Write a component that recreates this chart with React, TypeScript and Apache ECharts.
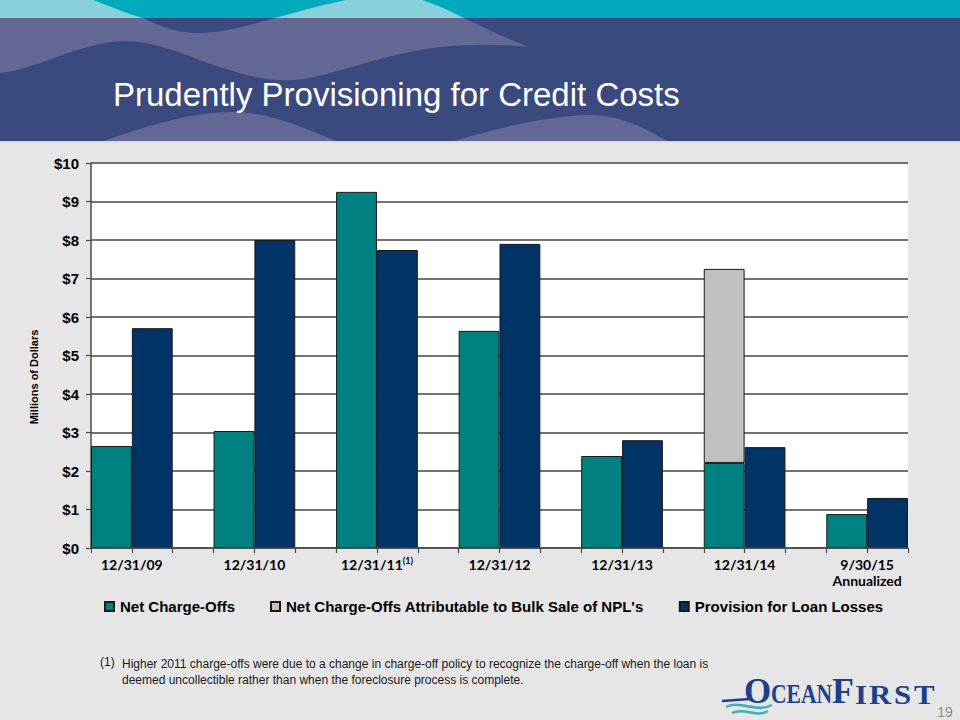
import React, { useEffect, useRef } from "react";
import * as echarts from "echarts";

// ---------- data ----------
const categories = ["12/31/09", "12/31/10", "12/31/11", "12/31/12", "12/31/13", "12/31/14", "9/30/15\nAnnualized"];
const footnoteCategory = "12/31/11";
const netChargeOffs = [2.65, 3.04, 9.25, 5.64, 2.39, 2.21, 0.88];
const bulkSaleChargeOffs = [null, null, null, null, null, 5.04, null];
const provisionForLoanLosses = [5.71, 8.0, 7.74, 7.9, 2.8, 2.62, 1.3];
const seriesNames = [
  "Net Charge-Offs",
  "Net Charge-Offs Attributable to Bulk Sale of NPL's",
  "Provision for Loan Losses",
];
const yTicks = { min: 0, max: 10, interval: 1 };
const title = "Prudently Provisioning for Credit Costs";
const yAxisName = "Millions of Dollars";
const footnote =
  "Higher 2011 charge-offs were due to a change in charge-off policy to recognize the charge-off when the loan is\ndeemed uncollectible rather than when the foreclosure process is complete.";
const pageNumber = "19";

// ---------- header shapes ----------
echarts.graphic.registerShape(
  "hdrLightA",
  echarts.graphic.extendPath("M0 0 L93 0 C110 6 125 13 143 18 L0 18 Z", {})
);
echarts.graphic.registerShape(
  "hdrLightB",
  echarts.graphic.extendPath("M346 0 L422 0 C440 6 452 12 464 18 L275 18 C300 11 322 5 346 0 Z", {})
);
echarts.graphic.registerShape(
  "hdrWave1",
  echarts.graphic.extendPath(
    "M0 18 L143 18 C160 26 175 33 200 33 C225 33 250 25 275 18 L464 18 C485 28 505 38 529 47 C500 44 470 44 440 47 C400 52 370 62 330 73 C310 79 295 81 280 80 C255 79 235 72 205 62 C180 52 150 41 125 41 C100 41 70 52 40 63 C25 68 12 72 0 73 Z",
    {}
  )
);
echarts.graphic.registerShape(
  "hdrWave2",
  echarts.graphic.extendPath("M104 141 C140 128 190 112 232 112 C270 112 305 128 336 141 Z", {})
);
echarts.graphic.registerShape(
  "hdrWave3",
  echarts.graphic.extendPath("M454 141 C490 130 550 115 590 115 C620 115 645 128 667 141 Z", {})
);

const SANS = "'Liberation Sans', Arial, sans-serif";
const SERIF = "'Liberation Serif', 'Times New Roman', serif";
const LOGO = "#1E3F8A";

export default function App() {
  const ref = useRef<HTMLDivElement>(null);

  useEffect(() => {
    if (!ref.current) return;
    const chart = echarts.init(ref.current, undefined, { renderer: "svg" });

    const plotLeft = 91;
    const plotRight = 908;
    const plotTop = 163;
    const plotBottom = 548;
    const slotCount = categories.length * 3 - 1;
    const slot = (plotRight - plotLeft) / slotCount;
    const barLeft = plotLeft - slot / 2;
    const barWidthTotal = slot * 3 * categories.length;
    const slots = Array.from({ length: slotCount }, () => "");

    const barBorder = { borderColor: "#1a1a1a", borderWidth: 1 };

    const logoLetter = (text: string, x: number, size: number, y: number, scaleX = 1) => ({
      type: "text",
      x,
      y,
      scaleX,
      style: { text, fill: LOGO, font: `bold ${size}px ${SERIF}`, textAlign: "left", textVerticalAlign: "middle" },
    });

    const option: any = {
      animation: false,
      backgroundColor: "#E6E6E6",
      grid: [
        {
          left: plotLeft,
          width: plotRight - plotLeft,
          top: plotTop,
          height: plotBottom - plotTop,
          show: true,
          backgroundColor: "#ffffff",
          borderWidth: 0,
        },
        {
          left: barLeft,
          width: barWidthTotal,
          top: plotTop,
          height: plotBottom - plotTop,
        },
      ],
      xAxis: [
        {
          gridIndex: 0,
          type: "category",
          data: slots,
          boundaryGap: true,
          axisLine: { show: true, lineStyle: { color: "#4a4a4a", width: 1.5 } },
          axisTick: { show: true, length: 5, lineStyle: { color: "#4a4a4a", width: 1.2 } },
          axisLabel: { show: false },
          splitLine: { show: false },
          z: 5,
        },
        {
          gridIndex: 1,
          type: "category",
          data: categories,
          boundaryGap: true,
          axisLine: { show: false },
          axisTick: { show: false },
          splitLine: { show: false },
          axisLabel: {
            interval: 0,
            margin: 8,
            color: "#000",
            fontFamily: "Lato, 'Open Sans', sans-serif",
            fontWeight: "bold",
            fontSize: 14,
            lineHeight: 16,
            formatter: (v: string) => (v === footnoteCategory ? v + "{s|(1)}" : v),
            rich: {
              s: {
                fontSize: 9,
                fontWeight: "bold",
                fontFamily: "Lato, 'Open Sans', sans-serif",
                color: "#000",
                padding: [0, 0, 7, 0],
              },
            },
          },
        },
      ],
      yAxis: [
        {
          gridIndex: 0,
          type: "value",
          min: yTicks.min,
          max: yTicks.max,
          interval: yTicks.interval,
          axisLine: { show: true, lineStyle: { color: "#4a4a4a", width: 1.5 } },
          axisTick: { show: true, length: 5, lineStyle: { color: "#4a4a4a", width: 1.2 } },
          splitLine: { show: true, lineStyle: { color: "#444444", width: 1.5 } },
          axisLabel: {
            margin: 12,
            color: "#000",
            fontFamily: SANS,
            fontWeight: "bold",
            fontSize: 15,
            formatter: (v: number) => "$" + v,
          },
        },
        {
          gridIndex: 1,
          type: "value",
          min: yTicks.min,
          max: yTicks.max,
          interval: yTicks.interval,
          show: false,
          splitLine: { show: false },
        },
      ],
      legend: {
        left: 104,
        top: 599,
        padding: 0,
        itemWidth: 9,
        itemHeight: 9,
        itemGap: 35,
        icon: "rect",
        data: seriesNames,
        textStyle: {
          color: "#000",
          fontFamily: SANS,
          fontWeight: "bold",
          fontSize: 15,
          padding: [0, 0, 0, 1],
        },
      },
      series: [
        {
          name: seriesNames[0],
          type: "bar",
          xAxisIndex: 1,
          yAxisIndex: 1,
          stack: "nco",
          barWidth: slot,
          barGap: "0%",
          data: netChargeOffs,
          itemStyle: { color: "#008080", ...barBorder },
        },
        {
          name: seriesNames[1],
          type: "bar",
          xAxisIndex: 1,
          yAxisIndex: 1,
          stack: "nco",
          barWidth: slot,
          barGap: "0%",
          data: bulkSaleChargeOffs,
          itemStyle: { color: "#C0C0C0", ...barBorder },
        },
        {
          name: seriesNames[2],
          type: "bar",
          xAxisIndex: 1,
          yAxisIndex: 1,
          barWidth: slot,
          barGap: "0%",
          data: provisionForLoanLosses,
          itemStyle: { color: "#003366", ...barBorder },
        },
      ],
      graphic: [
        // header
        { type: "rect", silent: true, z: -10, shape: { x: 0, y: 0, width: 960, height: 18 }, style: { fill: "#00A9BB" } },
        { type: "rect", silent: true, z: -10, shape: { x: 0, y: 18, width: 960, height: 123 }, style: { fill: "#3B4A7E" } },
        { type: "hdrLightA", silent: true, z: -9, x: 0, y: 0, style: { fill: "#88D1DC" } },
        { type: "hdrLightB", silent: true, z: -9, x: 0, y: 0, style: { fill: "#88D1DC" } },
        { type: "hdrWave1", silent: true, z: -9, x: 0, y: 0, style: { fill: "#636895" } },
        { type: "hdrWave2", silent: true, z: -9, x: 0, y: 0, style: { fill: "#636895" } },
        { type: "hdrWave3", silent: true, z: -9, x: 0, y: 0, style: { fill: "#636895" } },
        { type: "rect", silent: true, z: -9, shape: { x: 0, y: 141, width: 960, height: 2 }, style: { fill: "#D9DCE6" } },
        {
          type: "text",
          silent: true,
          x: 113,
          y: 94,
          style: {
            text: title,
            fill: "#ffffff",
            font: `33px ${SANS}`,
            textAlign: "left",
            textVerticalAlign: "middle",
          },
        },
        // y axis name
        {
          type: "text",
          silent: true,
          x: 34,
          y: 377,
          rotation: Math.PI / 2,
          style: {
            text: yAxisName,
            fill: "#000",
            font: `bold 11px ${SANS}`,
            textAlign: "center",
            textVerticalAlign: "middle",
          },
        },
        // footnote
        {
          type: "text",
          silent: true,
          x: 100,
          y: 656,
          style: { text: "(1)", fill: "#1a1a1a", font: `12px ${SANS}`, textAlign: "left", textVerticalAlign: "top" },
        },
        {
          type: "text",
          silent: true,
          x: 122,
          y: 656,
          style: {
            text: footnote,
            fill: "#1a1a1a",
            font: `12px ${SANS}`,
            lineHeight: 16,
            textAlign: "left",
            textVerticalAlign: "top",
          },
        },
        // logo
        {
          type: "group",
          silent: true,
          children: [
            logoLetter("O", 744, 35, 691),
            logoLetter("CEAN", 771, 27, 694, 0.8),
            logoLetter("F", 832, 36, 691),
            logoLetter("I", 855, 28, 694, 1.1),
            logoLetter("R", 869, 28, 694, 1.1),
            logoLetter("S", 894, 28, 694, 1.1),
            logoLetter("T", 914, 28, 694, 1.1),
            { type: "line", shape: { x1: 722, y1: 701, x2: 750, y2: 699 }, style: { stroke: LOGO, lineWidth: 2.5 } },
            {
              type: "bezierCurve",
              shape: { x1: 726, y1: 707, cpx1: 740, cpy1: 700, cpx2: 756, cpy2: 713, x2: 772, y2: 705 },
              style: { stroke: "#3FB0BA", lineWidth: 2.5, fill: null },
            },
            {
              type: "bezierCurve",
              shape: { x1: 732, y1: 713, cpx1: 744, cpy1: 707, cpx2: 756, cpy2: 718, x2: 768, y2: 711 },
              style: { stroke: "#3FB0BA", lineWidth: 2.5, fill: null },
            },
          ],
        },
        {
          type: "text",
          silent: true,
          x: 945,
          y: 712,
          style: { text: pageNumber, fill: "#8C8C8C", font: `14px ${SANS}`, textAlign: "center", textVerticalAlign: "middle" },
        },
      ],
    };

    chart.setOption(option);
    return () => chart.dispose();
  }, []);

  return (
    <div
      ref={ref}
      style={{ position: "absolute", left: 0, top: 0, width: 960, height: 720 }}
    />
  );
}
